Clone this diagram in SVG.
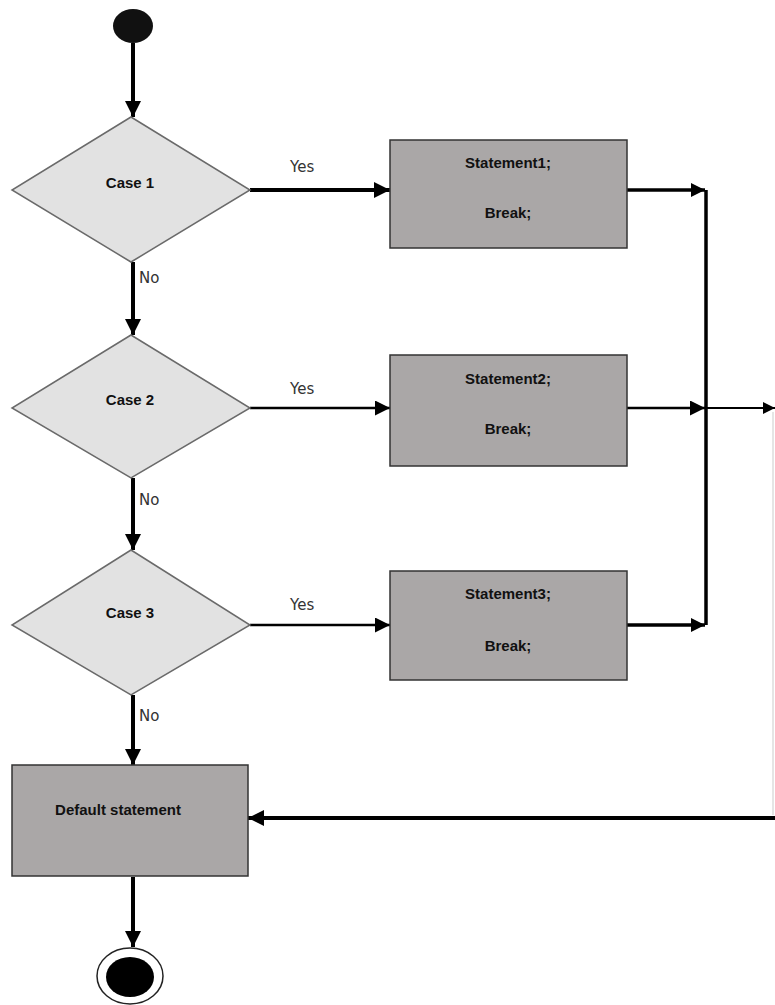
<svg xmlns="http://www.w3.org/2000/svg" width="775" height="1005" viewBox="0 0 775 1005">
<style>
.dia{fill:#e2e2e2;stroke:#6a6a6a;stroke-width:1.5}
.box{fill:#aaa7a7;stroke:#333;stroke-width:1.5}
.t{font-family:"Liberation Sans",Arial,sans-serif;font-weight:bold;font-size:15px;fill:#111;text-anchor:middle}
.lbl{font-family:"DejaVu Sans","Liberation Sans",sans-serif;font-size:15px;fill:#333}
.c{stroke:#000;fill:none}
</style>
<defs>
<marker id="ah" viewBox="0 0 10 10" refX="10" refY="5" markerWidth="4" markerHeight="4" markerUnits="strokeWidth" orient="auto">
<path d="M0,0 L10,5 L0,10 z" fill="#000"/>
</marker>
<marker id="ah2" viewBox="0 0 10 10" refX="10" refY="5" markerWidth="6" markerHeight="6" markerUnits="strokeWidth" orient="auto">
<path d="M0,0 L10,5 L0,10 z" fill="#000"/>
</marker>
</defs>
<rect width="775" height="1005" fill="#fff"/>
<g id="connectors">
<line class="c" x1="133" y1="43" x2="133" y2="117" stroke-width="4" marker-end="url(#ah)"/>
<line class="c" x1="133" y1="262" x2="133" y2="335" stroke-width="4" marker-end="url(#ah)"/>
<line class="c" x1="133" y1="478" x2="133" y2="550" stroke-width="4" marker-end="url(#ah)"/>
<line class="c" x1="133" y1="695" x2="133" y2="765" stroke-width="4" marker-end="url(#ah)"/>
<line class="c" x1="133" y1="877" x2="133" y2="947" stroke-width="4" marker-end="url(#ah)"/>
<line class="c" x1="250" y1="190" x2="390" y2="190" stroke-width="4" marker-end="url(#ah)"/>
<line class="c" x1="250" y1="408" x2="390" y2="408" stroke-width="2.5" marker-end="url(#ah2)"/>
<line class="c" x1="250" y1="625" x2="390" y2="625" stroke-width="2.5" marker-end="url(#ah2)"/>
<line class="c" x1="627" y1="190" x2="705" y2="190" stroke-width="3.5" marker-end="url(#ah)"/>
<line class="c" x1="627" y1="408" x2="705" y2="408" stroke-width="2.5" marker-end="url(#ah2)"/>
<line class="c" x1="627" y1="625" x2="705" y2="625" stroke-width="3.5" marker-end="url(#ah)"/>
<line class="c" x1="706" y1="190" x2="706" y2="625" stroke-width="3.5"/>
<line class="c" x1="706" y1="408" x2="775" y2="408" stroke-width="2" marker-end="url(#ah2)"/>
<line x1="773" y1="412" x2="773" y2="815" stroke="#ddd" stroke-width="1.5"/>
<line class="c" x1="775" y1="818" x2="248" y2="818" stroke-width="4" marker-end="url(#ah)"/>
<text class="lbl" x="290" y="172">Yes</text>
<text class="lbl" x="290" y="394">Yes</text>
<text class="lbl" x="290" y="610">Yes</text>
<text class="lbl" x="139" y="283">No</text>
<text class="lbl" x="139" y="505">No</text>
<text class="lbl" x="139" y="721">No</text>
</g>
<g id="start"><ellipse cx="133" cy="26" rx="20" ry="17" fill="#111"/></g>
<g id="case1"><polygon class="dia" points="131,117 250,190 131,262 12,190"/><text class="t" x="130" y="188">Case 1</text></g>
<g id="case2"><polygon class="dia" points="131,335 250,408 131,478 12,408"/><text class="t" x="130" y="405">Case 2</text></g>
<g id="case3"><polygon class="dia" points="131,550 250,625 131,695 12,625"/><text class="t" x="130" y="618">Case 3</text></g>
<g id="stmt1"><rect class="box" x="390" y="140" width="237" height="108"/><text class="t" x="508" y="168">Statement1;</text><text class="t" x="508" y="218">Break;</text></g>
<g id="stmt2"><rect class="box" x="390" y="355" width="237" height="111"/><text class="t" x="508" y="384">Statement2;</text><text class="t" x="508" y="434">Break;</text></g>
<g id="stmt3"><rect class="box" x="390" y="571" width="237" height="109"/><text class="t" x="508" y="599">Statement3;</text><text class="t" x="508" y="651">Break;</text></g>
<g id="default"><rect class="box" x="12" y="765" width="236" height="111"/><text class="t" x="118" y="815">Default statement</text></g>
<g id="end"><ellipse cx="130" cy="976" rx="33" ry="28" fill="#fff" stroke="#222" stroke-width="1.5"/><ellipse cx="130" cy="977" rx="24" ry="20" fill="#000"/></g>
</svg>
